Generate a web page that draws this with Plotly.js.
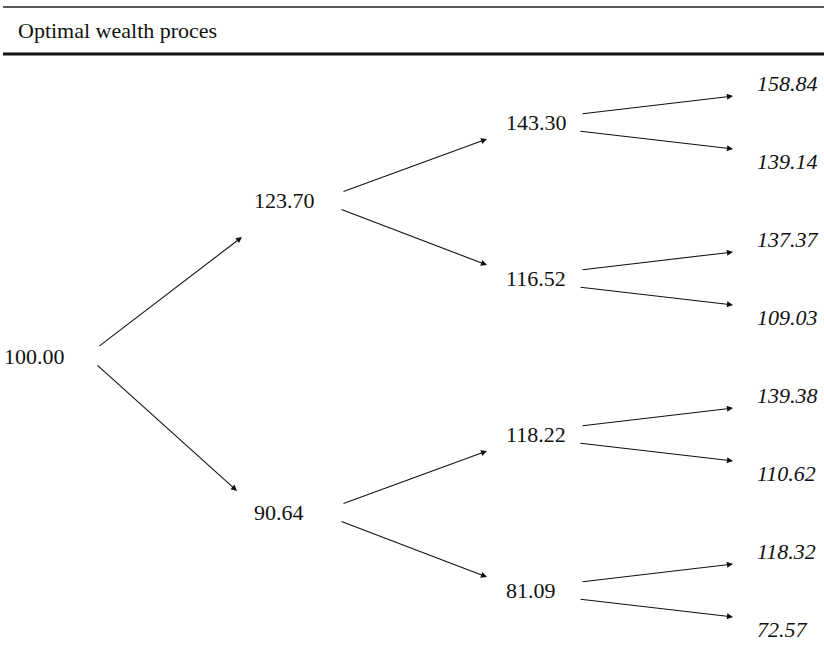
<!DOCTYPE html>
<html>
<head>
<meta charset="utf-8">
<script src="https://cdn.plot.ly/plotly-3.0.1.min.js"></script>
<style>html,body{margin:0;padding:0;background:#fff;}#chart{width:824px;height:650px;}</style>
</head>
<body>
<div id="chart"></div>
<script>
// ---- data ----
const headerText = "Optimal wealth proces";
const level0 = [100.00];
const level1 = [123.70, 90.64];
const level2 = [143.30, 116.52, 118.22, 81.09];
const level3 = [158.84, 139.14, 137.37, 109.03, 139.38, 110.62, 118.32, 72.57];
const levels = [level0, level1, level2, level3];

// ---- layout constants (pixels) ----
const W = 824, H = 650;
const LEAF_Y0 = 84, LEAF_STEP = 78;
const LABEL_X = [2, 252, 504, 755];
const ARROW_START_X = [98, 342, 581];
const ARROW_END_X = [[242, 237], [487, 487], [733, 733]];
const START_DY = [[-10, 7], [-9, 8], [-9, 8]];
const END_DY = [[36, -22], [16, -14], [12, -13]];
const FONT = "'Liberation Serif', 'Times New Roman', serif";

const nLeaves = level3.length;
function nodeY(L, k) {
  const span = nLeaves / levels[L].length;
  return LEAF_Y0 + LEAF_STEP * (k * span + (span - 1) / 2);
}

const annotations = [];
// labels
levels.forEach((vals, L) => {
  vals.forEach((v, k) => {
    const t = v.toFixed(2);
    annotations.push({
      x: LABEL_X[L], y: nodeY(L, k) - 1, xref: 'x', yref: 'y',
      text: L === 3 ? '<i>' + t + '</i>' : t,
      showarrow: false, xanchor: 'left', yanchor: 'middle',
      font: {family: FONT, size: 22, color: '#111'}
    });
  });
});
// arrows
for (let L = 0; L < 3; L++) {
  levels[L].forEach((v, k) => {
    const sy = nodeY(L, k);
    for (let c = 0; c < 2; c++) {
      const ty = nodeY(L + 1, 2 * k + c);
      annotations.push({
        x: ARROW_END_X[L][c], y: ty + END_DY[L][c], xref: 'x', yref: 'y',
        ax: ARROW_START_X[L] - (c === 1 ? 2 : 0), ay: sy + START_DY[L][c], axref: 'x', ayref: 'y',
        text: '', showarrow: true, arrowhead: 2, arrowsize: 1.1, arrowwidth: 1.1,
        arrowcolor: '#111', standoff: 0, startstandoff: 0
      });
    }
  });
}
// header
annotations.push({
  x: 16, y: 30, xref: 'x', yref: 'y', text: headerText, showarrow: false,
  xanchor: 'left', yanchor: 'middle', font: {family: FONT, size: 22, color: '#111'}
});

const shapes = [
  {type: 'line', xref: 'x', yref: 'y', x0: 3, x1: W, y0: 7, y1: 7, line: {color: '#222', width: 1.6}},
  {type: 'line', xref: 'x', yref: 'y', x0: 3, x1: W, y0: 54, y1: 54, line: {color: '#111', width: 3}}
];

const layout = {
  width: W, height: H,
  margin: {l: 0, r: 0, t: 0, b: 0},
  paper_bgcolor: '#fff', plot_bgcolor: '#fff',
  xaxis: {range: [0, W], visible: false, fixedrange: true},
  yaxis: {range: [H, 0], visible: false, fixedrange: true},
  showlegend: false,
  annotations: annotations,
  shapes: shapes
};

Plotly.newPlot('chart', [{x: [], y: [], type: 'scatter', mode: 'markers'}], layout, {staticPlot: true, displayModeBar: false});
</script>
</body>
</html>
